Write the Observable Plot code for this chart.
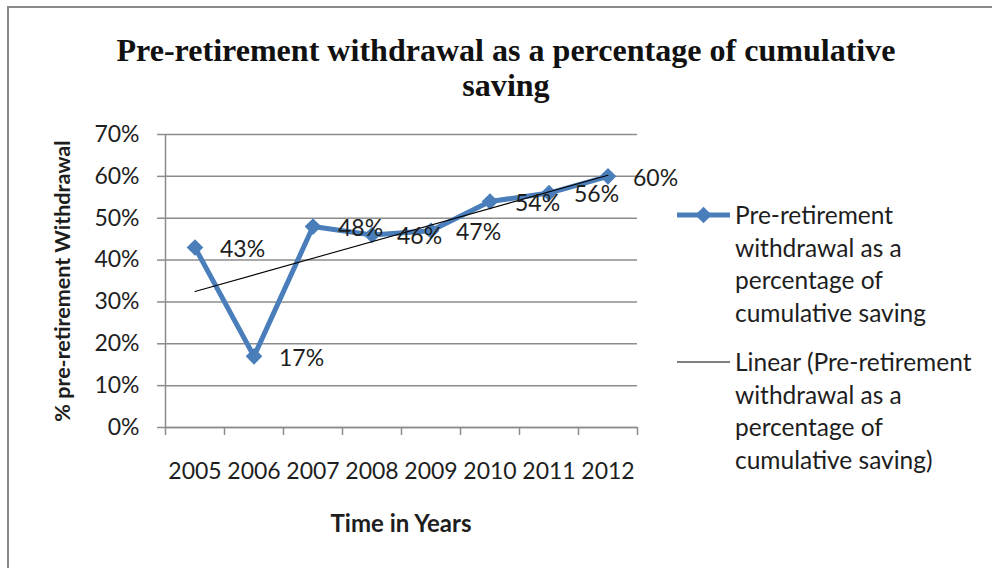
<!DOCTYPE html>
<html>
<head>
<meta charset="utf-8">
<script src="https://cdn.jsdelivr.net/npm/d3@7"></script>
<script src="https://cdn.jsdelivr.net/npm/@observablehq/plot@0.6"></script>
<style>
  html, body { margin: 0; padding: 0; background: #fff; }
  #wrap { position: relative; width: 992px; height: 568px; overflow: hidden; background: #fff; font-family: Lato, "Open Sans", sans-serif; color: #1e1e1e; }
  #frame { position: absolute; left: 7px; top: 6px; width: 1100px; height: 700px; border-left: 2px solid #8a8a8a; border-top: 2px solid #8a8a8a; }
  #chart { position: absolute; left: 0; top: 0; }
  #title { position: absolute; left: 10px; top: 33px; width: 992px; text-align: center; font-family: "Liberation Serif", "DejaVu Serif", serif; font-weight: bold; font-size: 31.5px; line-height: 35px; white-space: nowrap; color: #111; transform-origin: center; }
  #ytitle { position: absolute; left: 62px; top: 281px; transform: translate(-50%, -50%) rotate(-90deg); font-weight: bold; font-size: 21.5px; white-space: nowrap; }
  #xtitle { position: absolute; left: 401px; top: 522px; transform: translate(-50%, -50%); font-weight: bold; font-size: 24px; white-space: nowrap; }
  .legend { position: absolute; left: 676px; font-size: 24.5px; line-height: 32.6px; }
  .legend svg { position: absolute; left: 0; top: 0; }
  .legend .txt { position: absolute; left: 59px; top: 0; white-space: nowrap; }
</style>
</head>
<body>
<div id="wrap">
  <div id="frame"></div>
  <div id="chart"></div>
  <div id="title"><span id="l1">Pre-retirement withdrawal as a percentage of cumulative</span><br><span>saving</span></div>
  <div id="ytitle">% pre-retirement Withdrawal</div>
  <div id="xtitle">Time in Years</div>
  <div class="legend" id="leg1" style="top:199px"></div>
  <div class="legend" id="leg2" style="top:346px"></div>
</div>
<script>
// ---- data ----
const years = [2005, 2006, 2007, 2008, 2009, 2010, 2011, 2012];
const withdrawal = [0.43, 0.17, 0.48, 0.46, 0.47, 0.54, 0.56, 0.60];
const yTicks = [0, 0.1, 0.2, 0.3, 0.4, 0.5, 0.6, 0.7];
const seriesName = "Pre-retirement withdrawal as a percentage of cumulative saving";
const trendName = "Linear (Pre-retirement withdrawal as a percentage of cumulative saving)";
const seriesLines = ["Pre-retirement", "withdrawal as a", "percentage of", "cumulative saving"];
const trendLines = ["Linear (Pre-retirement", "withdrawal as a", "percentage of", "cumulative saving)"];

const blue = "#4a7ebb";
const grid = "#8c8c8c";
const data = years.map((y, i) => ({year: y, value: withdrawal[i]}));
const bounds = [...years.map(y => y - 0.5), years[years.length - 1] + 0.5];

const plot = Plot.plot({
  width: 992,
  height: 568,
  marginLeft: 165,
  marginRight: 355,
  marginTop: 134,
  marginBottom: 141,
  style: {background: "transparent", fontFamily: "Lato, 'Open Sans', sans-serif", fontSize: "23px", color: "#1e1e1e"},
  x: {type: "linear", domain: [bounds[0], bounds[bounds.length - 1]]},
  y: {domain: [0, 0.7]},
  marks: [
    Plot.gridY(yTicks, {stroke: grid, strokeOpacity: 1, strokeWidth: 1.5}),
    Plot.ruleX([bounds[0]], {stroke: grid, strokeWidth: 1.5}),
    Plot.ruleY([0], {stroke: grid, strokeWidth: 1.5}),
    Plot.axisY({ticks: yTicks, tickFormat: d3.format(".0%"), tickSize: 8, tickPadding: 18, stroke: grid, strokeWidth: 1.5, label: null, fill: "#1e1e1e"}),
    Plot.axisX({ticks: bounds, tickSize: 8, tickFormat: () => "", stroke: grid, strokeWidth: 1.5, label: null}),
    Plot.axisX({ticks: years, tickSize: 0, tickPadding: 35, tickFormat: d => String(d), label: null, fill: "#1e1e1e"}),
    Plot.line(data, {x: "year", y: "value", stroke: blue, strokeWidth: 5, strokeLinejoin: "round"}),
    Plot.dot(data, {x: "year", y: "value", symbol: "diamond2", r: 7.5, fill: blue, stroke: "none"}),
    Plot.linearRegressionY(data, {x: "year", y: "value", stroke: "#000", strokeWidth: 1.1, ci: 0}),
    Plot.text(data, {x: "year", y: "value", text: d => d3.format(".0%")(d.value), textAnchor: "start", dx: 25, dy: 2, fill: "#1e1e1e", fontSize: 23})
  ]
});
document.getElementById("chart").appendChild(plot);

// title: fit line 1 to the reference width
const l1 = document.getElementById("l1");
const k = 779 / l1.getBoundingClientRect().width;
document.getElementById("title").style.transform = `scaleX(${k})`;

function legend(el, lines, kind) {
  const svg = d3.create("svg").attr("width", 56).attr("height", 34);
  svg.append("line").attr("x1", 1).attr("x2", 54).attr("y1", 16).attr("y2", 16)
    .attr("stroke", kind === "series" ? blue : "#000").attr("stroke-width", kind === "series" ? 5 : 1.1);
  if (kind === "series") {
    svg.append("path").attr("d", d3.symbol(d3.symbolDiamond2, Math.PI * 7.5 * 7.5)()).attr("transform", "translate(27.5,16)").attr("fill", blue);
  }
  el.appendChild(svg.node());
  const t = document.createElement("div");
  t.className = "txt";
  t.innerHTML = lines.join("<br>");
  el.appendChild(t);
}
legend(document.getElementById("leg1"), seriesLines, "series");
legend(document.getElementById("leg2"), trendLines, "trend");
</script>
</body>
</html>
